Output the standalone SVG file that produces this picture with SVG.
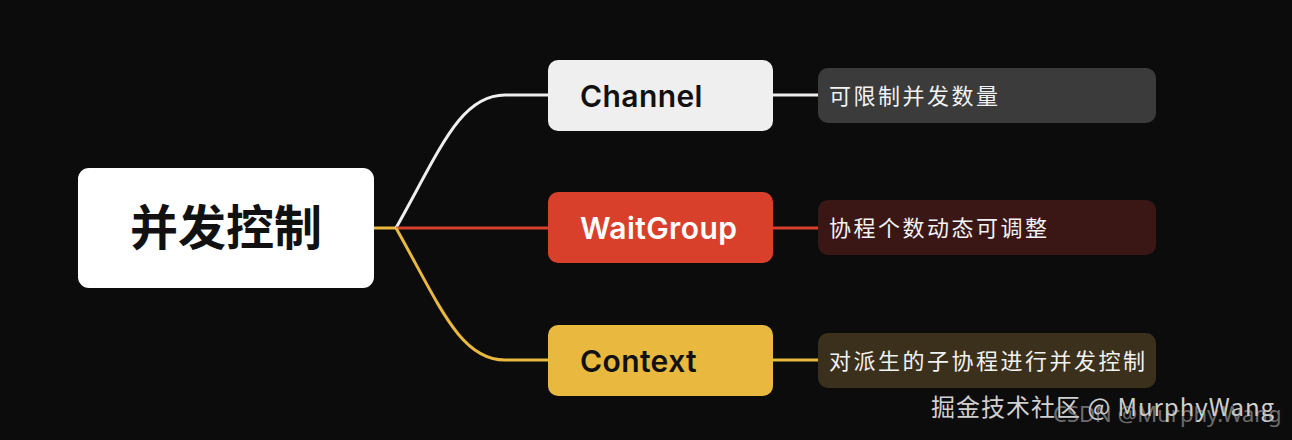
<svg xmlns="http://www.w3.org/2000/svg" width="1292" height="440" viewBox="0 0 1292 440">
<style>
.bg{fill:#0c0c0c}
.root{fill:#ffffff}
.rootText{font-family:"Noto Sans CJK SC","Noto Sans",sans-serif;font-weight:700;font-size:48px;fill:#111111}
.br{font-family:Inter,"Noto Sans",sans-serif;font-weight:600;font-size:30px;letter-spacing:0.4px}
.leafText{font-family:"Noto Sans CJK SC","Noto Sans",sans-serif;font-size:22px;letter-spacing:2.5px;fill:#f2f2f2}
.conn{fill:none;stroke-width:3}
.wm1{font-family:"Noto Sans CJK SC","Noto Sans",sans-serif;font-size:24px;letter-spacing:1px;fill:#d0d0d0}
.wm2{font-family:"Noto Sans","Noto Sans CJK SC",sans-serif;font-size:22px;fill:#bbbbbb;opacity:0.55}
</style>
<rect class="bg" x="0" y="0" width="1292" height="440"/>
<g id="connectors">
<path class="conn" stroke="#e8b93e" d="M373,228 L396,228"/>
<path class="conn" stroke="#eeeeee" d="M396,228 C440,150 460,95 505,95 L548,95"/>
<path class="conn" stroke="#d9402b" d="M396,228 L548,228"/>
<path class="conn" stroke="#e8b93e" d="M396,228 C440,306 460,360 505,360 L548,360"/>
<path class="conn" stroke="#eeeeee" d="M773,95 L818,95"/>
<path class="conn" stroke="#d9402b" d="M773,228 L818,228"/>
<path class="conn" stroke="#e8b93e" d="M773,360 L818,360"/>
</g>
<g id="root">
<rect class="root" x="78" y="168" width="296" height="120" rx="11"/>
<text class="rootText" x="226" y="245" text-anchor="middle">并发控制</text>
</g>
<g id="channel">
<rect x="548" y="60" width="225" height="71" rx="10" fill="#efefef"/>
<text class="br" x="580" y="107" fill="#111111">Channel</text>
</g>
<g id="waitgroup">
<rect x="548" y="192" width="225" height="71" rx="10" fill="#d9402b"/>
<text class="br" x="580" y="239" fill="#ffffff">WaitGroup</text>
</g>
<g id="context">
<rect x="548" y="325" width="225" height="71" rx="10" fill="#e8b93e"/>
<text class="br" x="580" y="372" fill="#111111">Context</text>
</g>
<g id="leaf1">
<rect x="818" y="68" width="338" height="55" rx="10" fill="#3b3b3b"/>
<text class="leafText" x="829" y="104">可限制并发数量</text>
</g>
<g id="leaf2">
<rect x="818" y="200" width="338" height="55" rx="10" fill="#3a1715"/>
<text class="leafText" x="829" y="236">协程个数动态可调整</text>
</g>
<g id="leaf3">
<rect x="818" y="333" width="338" height="55" rx="10" fill="#3b301b"/>
<text class="leafText" x="829" y="369">对派生的子协程进行并发控制</text>
</g>
<text class="wm1" x="931" y="416">掘金技术社区 @ MurphyWang</text>
<text class="wm2" x="1053" y="422">CSDN @Murphy.Wang</text>
</svg>
